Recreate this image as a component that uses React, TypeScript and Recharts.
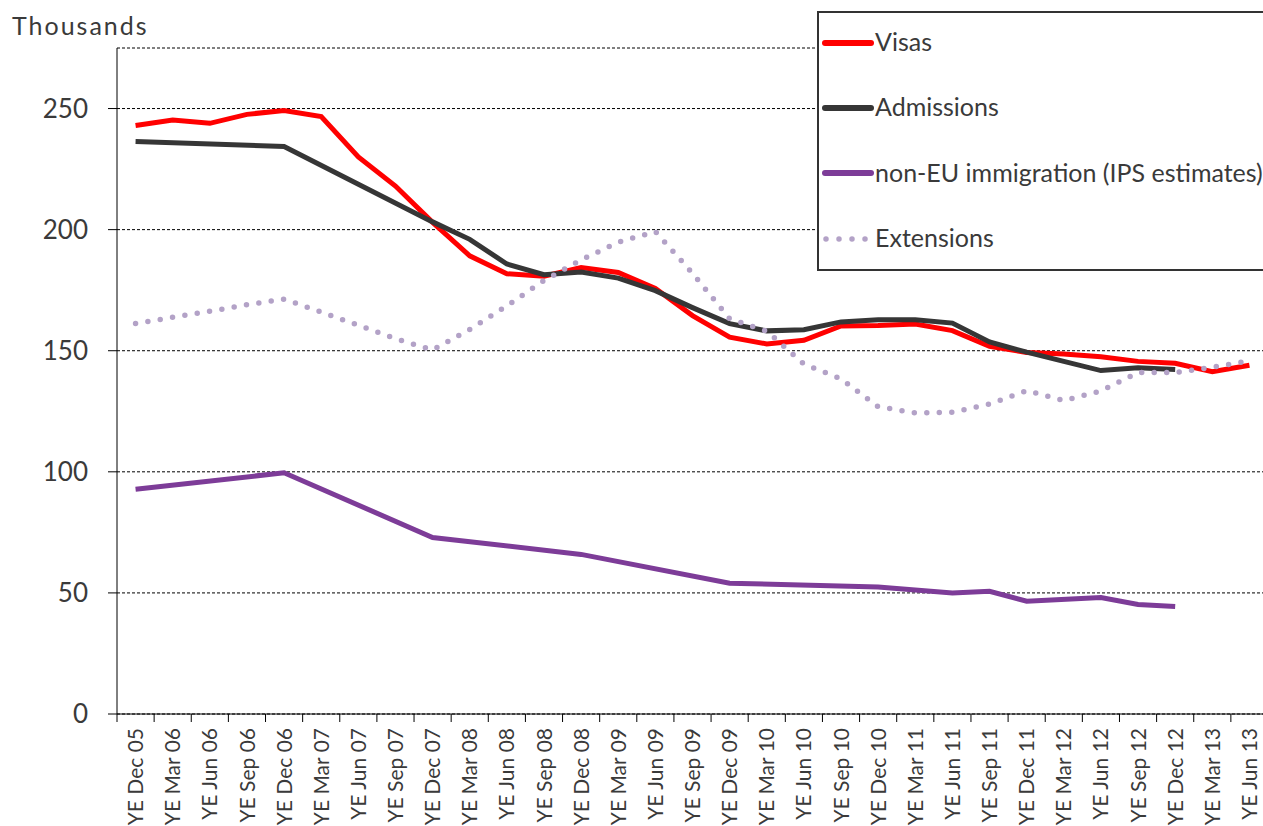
import React from 'react';
import { LineChart, Line, XAxis, YAxis, CartesianGrid, Legend, Label } from 'recharts';

const categories = [
  'YE Dec 05', 'YE Mar 06', 'YE Jun 06', 'YE Sep 06', 'YE Dec 06', 'YE Mar 07', 'YE Jun 07', 'YE Sep 07',
  'YE Dec 07', 'YE Mar 08', 'YE Jun 08', 'YE Sep 08', 'YE Dec 08', 'YE Mar 09', 'YE Jun 09', 'YE Sep 09',
  'YE Dec 09', 'YE Mar 10', 'YE Jun 10', 'YE Sep 10', 'YE Dec 10', 'YE Mar 11', 'YE Jun 11', 'YE Sep 11',
  'YE Dec 11', 'YE Mar 12', 'YE Jun 12', 'YE Sep 12', 'YE Dec 12', 'YE Mar 13', 'YE Jun 13',
];

const visas = [
  243, 245.3, 243.9, 247.6, 249.2, 246.7, 230, 218,
  203, 189.2, 181.8, 180.8, 184.4, 182.3, 175.7, 164.5,
  155.6, 152.8, 154.3, 160.2, 160.4, 161, 158.3, 151.8,
  149.3, 148.6, 147.5, 145.6, 144.8, 141.3, 144,
];

const admissions = [
  236.4, null, null, null, 234.3, null, null, null,
  203.2, 196, 185.8, 181.4, 182.5, 180, 174.8, 167.8,
  161.2, 158.2, 158.7, 161.9, 162.8, 162.8, 161.4, 153.6,
  149.4, 145.6, 141.8, 143, 142.2, null, null,
];

const nonEU = [
  92.8, null, null, null, 99.6, null, null, null,
  72.9, null, null, null, 65.9, null, null, null,
  54, null, null, null, 52.4, null, 50, 50.7,
  46.6, null, 48.1, 45.2, 44.4, null, null,
];

const extensions = [
  161.2, 163.8, 166.3, 169, 171.3, 166, 160.5, 155,
  150.3, 158.8, 168.5, 179, 187.5, 194.8, 199.2, 182,
  163.2, 158.1, 144.5, 138.4, 126.9, 124.3, 124.6, 128,
  133.5, 129.4, 133.4, 141, 141, 143.2, 145.8,
];

const yTicks = [0, 50, 100, 150, 200, 250];

const seriesNames = ['Visas', 'Admissions', 'non-EU immigration (IPS estimates)', 'Extensions'];

const data = categories.map((c, i) => ({
  cat: c,
  visas: visas[i],
  admissions: admissions[i],
  nonEU: nonEU[i],
  extensions: extensions[i],
}));

const CHART_W = 1268;
const CHART_H = 826;
const Y_AXIS_W = 117;
const BAND = (CHART_W - Y_AXIS_W) / categories.length;
const FONT = 'Lato, "Open Sans", sans-serif';
const TEXT = '#3a3a3a';

const COLORS = {
  visas: '#ff0000',
  admissions: '#363636',
  nonEU: '#7d3c98',
  extensions: '#b3a2c7',
};

const XTick = (props: any) => {
  const { x, y, payload, index } = props;
  const last = index === categories.length - 1;
  return (
    <g>
      <line x1={x - BAND / 2} x2={x - BAND / 2} y1={y} y2={y + 8} stroke="#000" strokeWidth={1} />
      {last && <line x1={x + BAND / 2} x2={x + BAND / 2} y1={y} y2={y + 8} stroke="#000" strokeWidth={1} />}
      <text
        transform={`translate(${x},${y + 14}) rotate(-90)`}
        textAnchor="end"
        dy="0.36em"
        fontFamily={FONT}
        fontSize={21}
        fill={TEXT}
      >
        {payload.value}
      </text>
    </g>
  );
};

const LegendContent = () => {
  const keys = ['visas', 'admissions', 'nonEU', 'extensions'] as const;
  return (
    <div
      style={{
        width: 470,
        height: 260,
        border: '2px solid #333',
        background: '#fff',
        boxSizing: 'border-box',
        fontFamily: FONT,
        fontSize: 25,
        color: TEXT,
      }}
    >
      <div style={{ position: 'relative', top: -3 }}>
        {keys.map((k, i) => (
          <div key={k} style={{ display: 'flex', alignItems: 'center', height: 65.3 }}>
            <svg width={56} height={12} style={{ flex: 'none' }}>
              {k === 'extensions' ? (
                <line x1={7} x2={50} y1={6} y2={6} stroke={COLORS[k]} strokeWidth={5.5} strokeLinecap="round" strokeDasharray="0 13" />
              ) : (
                <line x1={6} x2={52} y1={6} y2={6} stroke={COLORS[k]} strokeWidth={6} strokeLinecap="round" />
              )}
            </svg>
            <span style={{ whiteSpace: 'nowrap', marginTop: -3 }}>{seriesNames[i]}</span>
          </div>
        ))}
      </div>
    </div>
  );
};

export default function App() {
  return (
    <div style={{ position: 'absolute', left: 0, top: 0, width: 1263, height: 826, overflow: 'hidden', background: '#fff' }}>
      <LineChart width={CHART_W} height={CHART_H} data={data} margin={{ top: 48, right: 0, bottom: 0, left: 0 }}>
        <CartesianGrid horizontal vertical={false} stroke="#000" strokeDasharray="3 2" strokeWidth={1} />
        <XAxis
          dataKey="cat"
          interval={0}
          height={112}
          tickSize={0}
          tickMargin={0}
          tickLine={false}
          padding={{ left: BAND / 2, right: BAND / 2 }}
          axisLine={{ stroke: '#000', strokeWidth: 1 }}
          tick={<XTick />}
        />
        <YAxis
          width={Y_AXIS_W}
          domain={[0, 275]}
          ticks={yTicks}
          tickSize={9}
          tickMargin={20}
          axisLine={{ stroke: '#000', strokeWidth: 1 }}
          tickLine={{ stroke: '#000', strokeWidth: 1 }}
          tick={{ fontFamily: FONT, fontSize: 26, fill: TEXT }}
        >
          <Label
            content={() => (
              <text x={12} y={35} fontFamily={FONT} fontSize={25} fill={TEXT} letterSpacing={2}>
                Thousands
              </text>
            )}
          />
        </YAxis>
        <Legend
          layout="vertical"
          align="center"
          verticalAlign="middle"
          content={<LegendContent />}
          wrapperStyle={{ position: 'absolute', left: 817, top: 11, width: 470, height: 260 }}
        />
        <Line dataKey="visas" name={seriesNames[0]} type="linear" stroke={COLORS.visas} strokeWidth={5} dot={false} connectNulls isAnimationActive={false} />
        <Line dataKey="admissions" name={seriesNames[1]} type="linear" stroke={COLORS.admissions} strokeWidth={5} dot={false} connectNulls isAnimationActive={false} />
        <Line dataKey="nonEU" name={seriesNames[2]} type="linear" stroke={COLORS.nonEU} strokeWidth={5} dot={false} connectNulls isAnimationActive={false} />
        <Line dataKey="extensions" name={seriesNames[3]} type="linear" stroke={COLORS.extensions} strokeWidth={5.5} strokeDasharray="0 12.5" strokeLinecap="round" dot={false} connectNulls isAnimationActive={false} />
      </LineChart>
    </div>
  );
}
